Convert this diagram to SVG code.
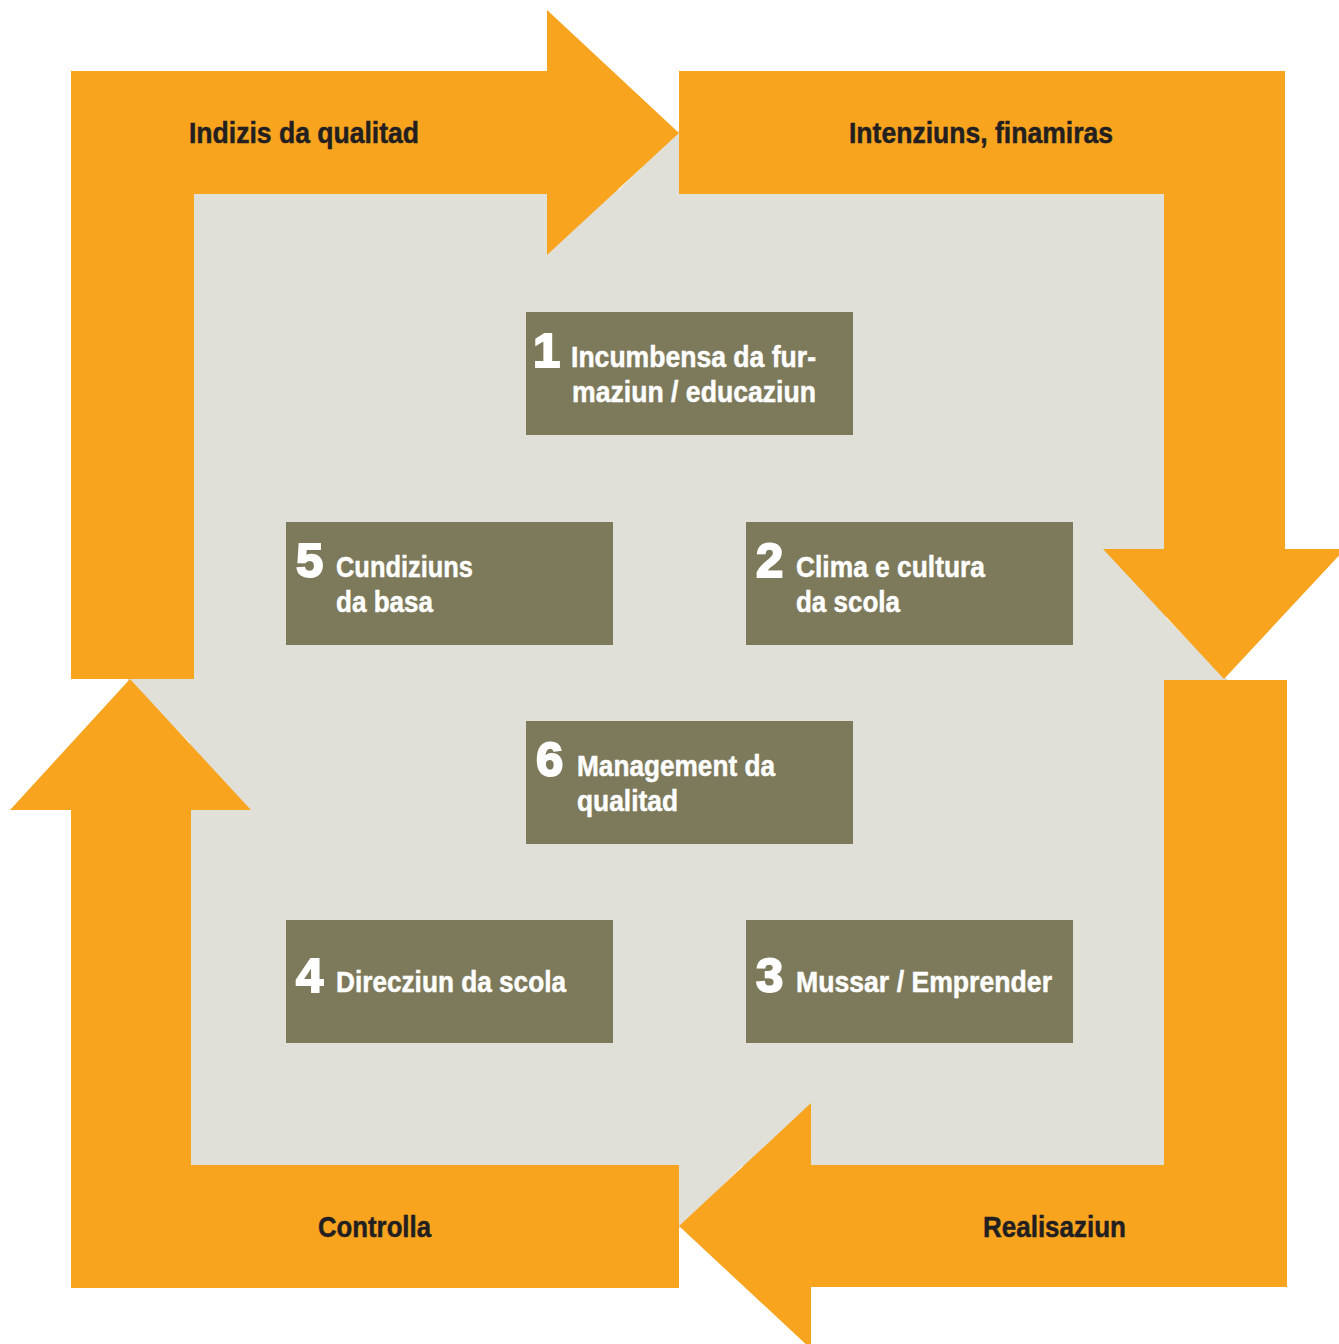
<svg xmlns="http://www.w3.org/2000/svg" width="1339" height="1344" viewBox="0 0 1339 1344">
  <style>
    .bg { fill: #E0E0D8; }
    .arrow { fill: #F8A41F; }
    .box { fill: #7D795B; }
    .lbl { font-family: "Liberation Sans", Arial, sans-serif; font-weight: bold; font-size: 30px; fill: #231F20; stroke: #231F20; stroke-width: 0.5px; }
    .txt { font-family: "Liberation Sans", Arial, sans-serif; font-weight: bold; font-size: 30px; fill: #FFFFFF; stroke: #FFFFFF; stroke-width: 0.5px; }
    .num { font-family: "Liberation Sans", Arial, sans-serif; font-weight: bold; font-size: 49px; fill: #FFFFFF; stroke: #FFFFFF; stroke-width: 2px; }
  </style>
  <rect width="1339" height="1344" fill="#FFFFFF"/>
  <g id="background">
    <rect class="bg" x="190" y="190" width="976" height="976"/>
    <polygon class="bg" points="679,130 1228,680 679,1229 127,680"/>
  </g>
  <g id="connectors">
    <g id="arrow-indizis">
      <polygon class="arrow" points="71,679 71,71 547,71 547,10 679,133 547,255 547,194 194,194 194,679"/>
      <text class="lbl" x="189" y="143" textLength="230" lengthAdjust="spacingAndGlyphs">Indizis da qualitad</text>
    </g>
    <g id="arrow-intenziuns">
      <polygon class="arrow" points="679,71 1285,71 1285,549 1345,549 1224,679 1103,549 1164,549 1164,194 679,194"/>
      <text class="lbl" x="849" y="143" textLength="264" lengthAdjust="spacingAndGlyphs">Intenziuns, finamiras</text>
    </g>
    <g id="arrow-realisaziun">
      <polygon class="arrow" points="1164,680 1287,680 1287,1287 811,1287 811,1349 679,1226 811,1103 811,1165 1164,1165"/>
      <text class="lbl" x="983" y="1237" textLength="143" lengthAdjust="spacingAndGlyphs">Realisaziun</text>
    </g>
    <g id="arrow-controlla">
      <polygon class="arrow" points="679,1165 679,1288 71,1288 71,810 10,810 130,679 251,810 191,810 191,1165"/>
      <text class="lbl" x="318" y="1237" textLength="113" lengthAdjust="spacingAndGlyphs">Controlla</text>
    </g>
  </g>
  <g id="node-1">
    <rect class="box" x="526" y="312" width="327" height="123"/>
    <text class="num" x="533" y="367">1</text>
    <text class="txt" x="571" y="367" textLength="245" lengthAdjust="spacingAndGlyphs">Incumbensa da fur-</text>
    <text class="txt" x="572" y="402" textLength="244" lengthAdjust="spacingAndGlyphs">maziun / educaziun</text>
  </g>
  <g id="node-5">
    <rect class="box" x="286" y="522" width="327" height="123"/>
    <text class="num" x="296" y="577">5</text>
    <text class="txt" x="336" y="577" textLength="137" lengthAdjust="spacingAndGlyphs">Cundiziuns</text>
    <text class="txt" x="336" y="612" textLength="97" lengthAdjust="spacingAndGlyphs">da basa</text>
  </g>
  <g id="node-2">
    <rect class="box" x="746" y="522" width="327" height="123"/>
    <text class="num" x="756" y="577">2</text>
    <text class="txt" x="796" y="577" textLength="189" lengthAdjust="spacingAndGlyphs">Clima e cultura</text>
    <text class="txt" x="796" y="612" textLength="104" lengthAdjust="spacingAndGlyphs">da scola</text>
  </g>
  <g id="node-6">
    <rect class="box" x="526" y="721" width="327" height="123"/>
    <text class="num" x="536" y="776">6</text>
    <text class="txt" x="577" y="776" textLength="198" lengthAdjust="spacingAndGlyphs">Management da</text>
    <text class="txt" x="577" y="811" textLength="101" lengthAdjust="spacingAndGlyphs">qualitad</text>
  </g>
  <g id="node-4">
    <rect class="box" x="286" y="920" width="327" height="123"/>
    <text class="num" x="296" y="992">4</text>
    <text class="txt" x="336" y="992" textLength="230" lengthAdjust="spacingAndGlyphs">Direcziun da scola</text>
  </g>
  <g id="node-3">
    <rect class="box" x="746" y="920" width="327" height="123"/>
    <text class="num" x="756" y="992">3</text>
    <text class="txt" x="796" y="992" textLength="256" lengthAdjust="spacingAndGlyphs">Mussar / Emprender</text>
  </g>
</svg>
